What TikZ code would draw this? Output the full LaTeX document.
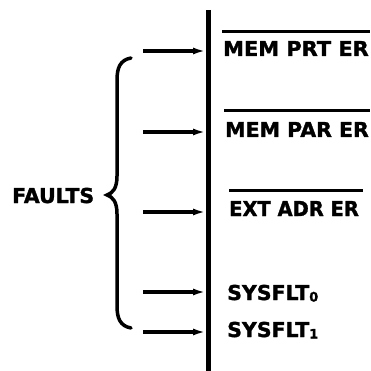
\documentclass[tikz,border=0pt]{standalone}
\usepackage{fontspec}
\newfontfamily\heavy{DejaVu Sans Bold}[FakeBold=1.5]
\usetikzlibrary{arrows.meta}
\newcommand{\sx}[2]{\scalebox{#1}[1]{#2}}
\tikzset{
  lbl/.style={anchor=base west, inner sep=0pt, font=\fontsize{20.5}{20.5}\heavy},
  sig/.style={line width=4pt, -{Latex[length=13pt,width=7pt]}},
  bar/.style={line width=3pt}
}
\begin{document}
\begin{tikzpicture}[x=1pt,y=-1pt]
\useasboundingbox (0,0) rectangle (370,371);
% bus line
\coordinate (bt) at (208,10);
\coordinate (bb) at (208,371);
\draw[line width=5pt] (bt) -- (bb);
% arrow origins and targets
\foreach \n/\y in {a/51,b/132,c/212,d/292,e/332}{
  \coordinate (s\n) at (143,\y);
  \coordinate (t\n) at (206,\y);
  \draw[sig] (s\n) -- (t\n);
}
% labels
\node[lbl] (l1) at (223,56) {\sx{1.02}{MEM PRT ER}};
\node[lbl] (l2) at (225,137) {\sx{1.0}{MEM PAR ER}};
\node[lbl] (l3) at (229,216) {\sx{0.95}{EXT ADR ER}};
\node[lbl] (l4) at (227,300) {SYSFLT\raisebox{-1.5pt}{\fontsize{13}{13}\heavy 0}};
\node[lbl] (l5) at (227,337) {SYSFLT\raisebox{-1.5pt}{\fontsize{13}{13}\heavy 1}};
% overbars
\draw[bar] (222,32) -- (370,32);
\draw[bar] (224,111) -- (370,111);
\draw[bar] (229,190) -- (363,190);
% brace
\draw[line width=3.5pt, line cap=round] (131,58) .. controls (120,60) and (117,68) .. (117,80) -- (117,176)
  .. controls (117,188) and (113,193) .. (107,195)
  .. controls (113,197) and (117,202) .. (117,214) -- (117,306)
  .. controls (117,318) and (120,326) .. (131,328);
\node[lbl] (faults) at (12,203) {FAULTS};
\end{tikzpicture}
\end{document}
